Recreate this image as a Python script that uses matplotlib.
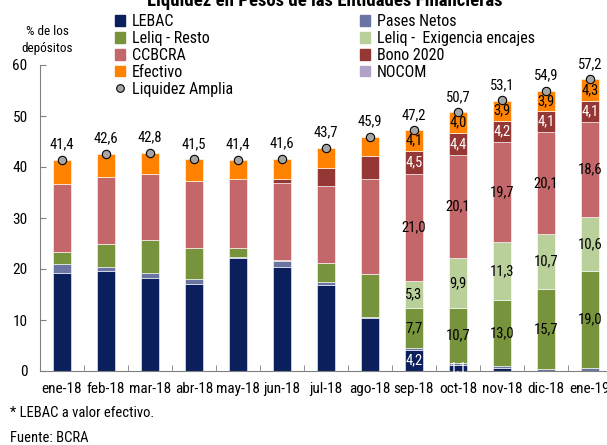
import numpy as np
import matplotlib.pyplot as plt
from matplotlib.patches import Patch
from matplotlib.lines import Line2D

plt.rcParams['font.family'] = ['Roboto Condensed', 'Liberation Sans Narrow', 'DejaVu Sans']

months = ["ene-18", "feb-18", "mar-18", "abr-18", "may-18", "jun-18", "jul-18",
          "ago-18", "sep-18", "oct-18", "nov-18", "dic-18", "ene-19"]

lebac    = [19.3, 19.7, 18.2, 17.0, 22.1, 20.3, 16.8, 10.3, 4.2, 1.1, 0.5, 0.0, 0.0]
pases    = [1.7, 0.7, 1.1, 1.0, 0.3, 1.2, 0.6, 0.3, 0.4, 0.5, 0.4, 0.4, 0.6]
leliq_r  = [2.3, 4.6, 6.4, 6.1, 1.7, 0.3, 3.7, 8.5, 7.7, 10.7, 13.0, 15.7, 19.0]
leliq_e  = [0, 0, 0, 0, 0, 0, 0, 0, 5.3, 9.9, 11.3, 10.7, 10.6]
ccbcra   = [13.3, 13.0, 13.0, 13.2, 13.5, 15.0, 15.2, 18.5, 21.0, 20.1, 19.7, 20.1, 18.6]
bono     = [0, 0, 0, 0, 0, 0.8, 3.5, 4.6, 4.5, 4.4, 4.2, 4.1, 4.1]
nocom    = [0] * 13
efectivo = [4.8, 4.6, 4.1, 4.2, 3.8, 4.0, 3.9, 3.7, 4.1, 4.0, 3.9, 3.9, 4.3]
liquidez = [41.4, 42.6, 42.8, 41.5, 41.4, 41.6, 43.7, 45.9, 47.2, 50.7, 53.1, 54.9, 57.2]

series = [
    ("LEBAC", lebac, "#0b1f5c", "white"),
    ("Pases Netos", pases, "#6a75a3", "white"),
    ("Leliq - Resto", leliq_r, "#77933c", "black"),
    ("Leliq -  Exigencia encajes", leliq_e, "#bad09a", "black"),
    ("CCBCRA", ccbcra, "#c4676a", "black"),
    ("Bono 2020", bono, "#953735", "white"),
    ("NOCOM", nocom, "#b3a2c7", "black"),
    ("Efectivo", efectivo, "#ff8200", "black"),
]

fig = plt.figure(figsize=(6.07, 4.45), dpi=100)
ax = fig.add_axes([40/607, 74/445, 572/607, 306/445])

x = np.arange(len(months))
bottom = np.zeros(len(months))
handles = {}
for name, vals, col, tcol in series:
    vals = np.array(vals, dtype=float)
    ax.bar(x, vals, 0.4, bottom=bottom, color=col, edgecolor="white", linewidth=0.4)
    handles[name] = Patch(color=col)
    for i in range(len(x)):
        if i >= 8 and vals[i] >= 1:
            ax.text(x[i], bottom[i] + vals[i] / 2, f"{vals[i]:.1f}".replace(".", ","),
                    ha="center", va="center", fontsize=10.5, color=tcol)
    bottom += vals

ax.plot(x, liquidez, "o", color="#a6a6a6", mec="black", mew=0.8, ms=6, clip_on=False, zorder=5)
for i, v in enumerate(liquidez):
    ax.annotate(f"{v:.1f}".replace(".", ","), (x[i], v), xytext=(0, 6), textcoords="offset points",
                ha="center", va="bottom", fontsize=10.5, annotation_clip=False)

ax.set_xlim(-0.5, 12.5)
ax.set_ylim(0, 60)
ax.set_yticks(range(0, 61, 10))
ax.set_xticks(x)
ax.set_xticklabels(months, fontsize=11)
ax.set_xticks(np.arange(0.5, 12, 1), minor=True)
ax.tick_params(axis="x", which="major", length=0, pad=8)
ax.tick_params(axis="x", which="minor", direction="in", length=4, color="#808080")
ax.tick_params(axis="y", direction="in", length=4, color="#808080", labelsize=11, pad=9)
for s in ["top", "right"]:
    ax.spines[s].set_visible(False)
for s in ["left", "bottom"]:
    ax.spines[s].set_color("#808080")

fig.text(47/607, 1 - 40/445, "% de los\ndepósitos", ha="center", va="center", fontsize=9.5, linespacing=1.4)

order1 = ["LEBAC", "Leliq - Resto", "CCBCRA", "Efectivo"]
order2 = ["Pases Netos", "Leliq -  Exigencia encajes", "Bono 2020", "NOCOM"]
liq_h = Line2D([], [], marker="o", ls="", color="#a6a6a6", mec="black", mew=0.8, ms=5.5)
kw = dict(frameon=False, fontsize=11.5, handlelength=0.65, handleheight=0.65, handletextpad=0.4,
          labelspacing=0.12, borderpad=0, borderaxespad=0, loc="upper left")
fig.legend([handles[n] for n in order1] + [liq_h], order1 + ["Liquidez Amplia"],
           bbox_to_anchor=(115/607, 1 - 14/445), **kw)
fig.legend([handles[n] for n in order2], order2,
           bbox_to_anchor=(360/607, 1 - 14/445), **kw)

fig.text(325/607, 1 - 6/445, "Liquidez en Pesos de las Entidades Financieras",
         ha="center", va="baseline", fontsize=13.5, fontweight="bold")
fig.text(10/607, 1 - 413/445, "* LEBAC a valor efectivo.", ha="left", va="center", fontsize=10.5)
fig.text(10/607, 1 - 438/445, "Fuente: BCRA", ha="left", va="center", fontsize=10.5)

fig.savefig("out.png", dpi=100)
